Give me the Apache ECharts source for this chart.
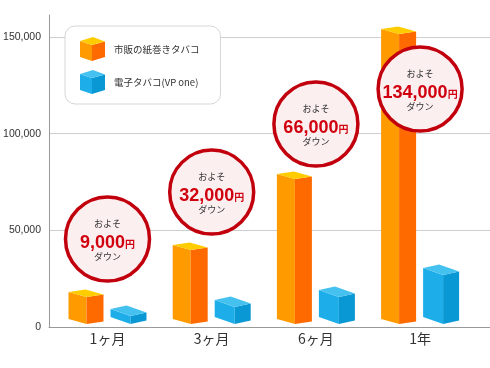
<!DOCTYPE html>
<html>
<head>
<meta charset="utf-8">
<script src="https://cdn.jsdelivr.net/npm/echarts@6/dist/echarts.min.js"></script>
<style>
html,body{margin:0;padding:0;background:#fff;}
#chart{width:490px;height:368px;}
</style>
</head>
<body>
<div id="chart"></div>
<script>
// ---- data ----
const categories = ['1ヶ月', '3ヶ月', '6ヶ月', '1年'];
const seriesNames = ['市販の紙巻きタバコ', '電子タバコ(VP one)'];
const cigaretteCost = [15500, 39800, 76500, 151600];
const vpOneCost = [5700, 10300, 15500, 26900];
const savingsText = ['9,000', '32,000', '66,000', '134,000'];
const yTickValues = [0, 50000, 100000, 150000];

// ---- layout / style ----
const badgeLevel = [45500, 69800, 105000, 123100];
const JP = '"Noto Sans CJK JP", "Noto Sans", sans-serif';
const NUM = '"Liberation Sans", Arial, sans-serif';

const orangeStyle = { near: -21, lw: 18, ldy: -5, rw: 17, rdy: -2.5,
  left: '#FF9A00', right: '#FF6A00', top: '#FFCC00' };
const blueStyle = { near: 23, lw: 20, ldy: -7, rw: 16, rdy: -3.5,
  left: '#1DAEE9', right: '#0A98D4', top: '#45C1F0' };

function cubeIcon(s) {
  const svg = '<svg xmlns="http://www.w3.org/2000/svg" width="29" height="24" viewBox="0 0 29 24">' +
    '<polygon points="0,4 12,8 12,24 0,20" fill="' + s.left + '"/>' +
    '<polygon points="12,8 25,4.5 25,20 12,24" fill="' + s.right + '"/>' +
    '<polygon points="0,4 13,0 25,4.5 12,8" fill="' + s.top + '"/>' +
    '</svg>';
  return 'image://data:image/svg+xml;charset=utf-8,' + encodeURIComponent(svg);
}

function cubeRenderer(s) {
  return function (params, api) {
    const i = api.value(0);
    const v = api.value(1);
    const base = api.coord([i, 0]);
    const topPt = api.coord([i, v]);
    const xn = base[0] + s.near;
    const yb = base[1] - 3;
    const yt = topPt[1];
    const xl = xn - s.lw, xr = xn + s.rw;
    const leftFace = [[xl, yt + s.ldy], [xn, yt], [xn, yb], [xl, yb + s.ldy]];
    const rightFace = [[xn, yt], [xr, yt + s.rdy], [xr, yb + s.rdy], [xn, yb]];
    const topFace = [[xl, yt + s.ldy], [xl + s.rw, yt + s.ldy + s.rdy], [xr, yt + s.rdy], [xn, yt]];
    return {
      type: 'group',
      children: [
        { type: 'polygon', shape: { points: leftFace }, style: { fill: s.left } },
        { type: 'polygon', shape: { points: rightFace }, style: { fill: s.right } },
        { type: 'polygon', shape: { points: topFace }, style: { fill: s.top } }
      ]
    };
  };
}

function badgeRenderer(params, api) {
  const i = api.value(0);
  const c = api.coord([i, api.value(1)]);
  const txt = savingsText[i];
  return {
    type: 'group',
    children: [
      { type: 'circle', shape: { cx: c[0], cy: c[1], r: 42 },
        style: { fill: '#FBEFF0', stroke: '#C2000D', lineWidth: 3.5 } },
      { type: 'text', style: { text: 'およそ', x: c[0], y: c[1] - 15, align: 'center', verticalAlign: 'middle',
        fill: '#333', font: 'normal 9px ' + JP } },
      { type: 'text', style: { text: '{n|' + txt + '}{y|円}', x: c[0], y: c[1] + 4, align: 'center', verticalAlign: 'middle',
        rich: {
          n: { fontFamily: NUM, fontWeight: 'bold', fontSize: 18, fill: '#D0000F', color: '#D0000F' },
          y: { fontFamily: JP, fontWeight: 'bold', fontSize: 10, fill: '#D0000F', color: '#D0000F', padding: [3, 0, 0, 0] }
        } } },
      { type: 'text', style: { text: 'ダウン', x: c[0], y: c[1] + 18, align: 'center', verticalAlign: 'middle',
        fill: '#333', font: 'normal 9px ' + JP } }
    ]
  };
}

const chart = echarts.init(document.getElementById('chart'), null, { renderer: 'canvas' });
chart.setOption({
  animation: false,
  backgroundColor: '#fff',
  grid: { left: 49, right: 0, top: 15, bottom: 41, containLabel: false },
  legend: {
    left: 65, top: 26, orient: 'vertical',
    itemWidth: 29, itemHeight: 24, itemGap: 9,
    padding: [11, 21, 10, 15],
    backgroundColor: '#fff', borderColor: '#d6d6d6', borderWidth: 1, borderRadius: 10,
    selectedMode: false,
    textStyle: { fontSize: 9.5, color: '#333', fontFamily: JP },
    data: [
      { name: seriesNames[0], icon: cubeIcon(orangeStyle) },
      { name: seriesNames[1], icon: cubeIcon(blueStyle) }
    ]
  },
  xAxis: {
    type: 'value', min: -0.5614, max: 3.6708,
    axisLine: { show: true, lineStyle: { color: '#999', width: 1 } },
    axisTick: { show: false },
    splitLine: { show: false },
    axisLabel: {
      customValues: [0, 1, 2, 3],
      formatter: v => categories[Math.round(v)] || '',
      fontSize: 14, color: '#333', fontFamily: JP, margin: 5
    }
  },
  yAxis: {
    type: 'value', min: 0, max: 161400,
    axisLine: { show: true, onZero: false, lineStyle: { color: '#999', width: 1 } },
    axisTick: { show: false },
    splitLine: { show: true, showMinLine: false, showMaxLine: false, lineStyle: { color: '#cfcfcf', width: 1 } },
    axisLabel: {
      customValues: yTickValues,
      formatter: v => Number(v).toLocaleString('en-US'),
      fontSize: 10.5, color: '#333', fontFamily: NUM, margin: 8
    },
    interval: 50000
  },
  series: [
    { type: 'custom', name: seriesNames[0], color: orangeStyle.left, z: 3,
      renderItem: cubeRenderer(orangeStyle), encode: { x: 0, y: 1 },
      data: cigaretteCost.map((v, i) => [i, v]) },
    { type: 'custom', name: seriesNames[1], color: blueStyle.left, z: 3,
      renderItem: cubeRenderer(blueStyle), encode: { x: 0, y: 1 },
      data: vpOneCost.map((v, i) => [i, v]) },
    { type: 'custom', name: 'badges', z: 5, silent: true,
      renderItem: badgeRenderer, encode: { x: 0, y: 1 },
      data: badgeLevel.map((v, i) => [i, v]) }
  ]
});
</script>
</body>
</html>
